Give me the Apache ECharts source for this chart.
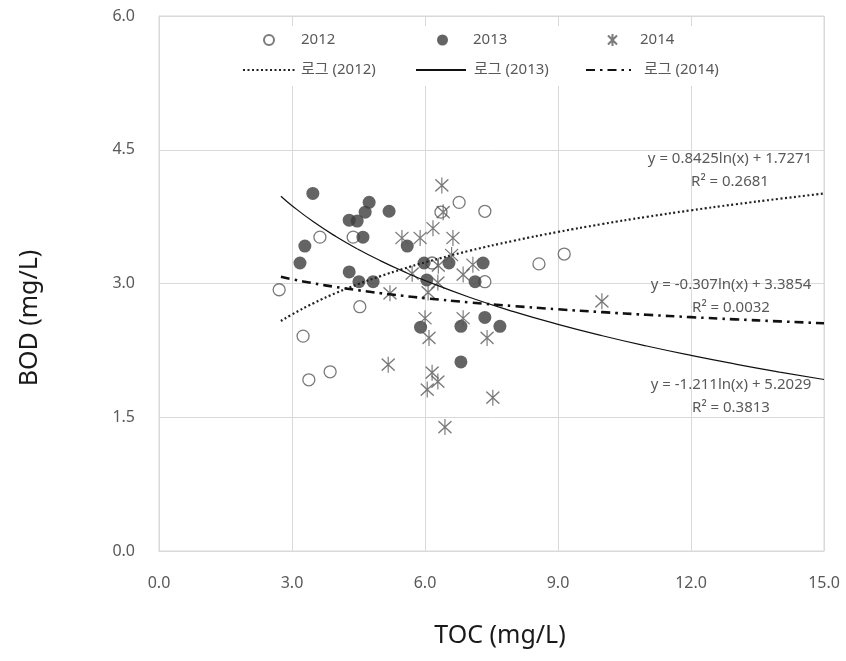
<!DOCTYPE html>
<html>
<head>
<meta charset="utf-8">
<script src="https://cdn.jsdelivr.net/npm/echarts@6/dist/echarts.min.js"></script>
<style>html,body{margin:0;padding:0;background:#fff}#c{width:846px;height:661px}</style>
</head>
<body>
<div id="c"></div>
<script>
// ---- data ----
const years = ['2012', '2013', '2014'];
const data2012 = [[2.71,2.93],[3.25,2.41],[3.38,1.92],[3.86,2.01],[3.63,3.52],[4.38,3.52],[4.53,2.74],[6.16,3.23],[6.36,3.80],[6.77,3.91],[7.35,3.81],[7.35,3.02],[8.57,3.22],[9.14,3.33]];
const data2013 = [[3.47,4.01],[4.74,3.91],[4.65,3.80],[4.29,3.71],[4.47,3.70],[5.19,3.81],[4.60,3.52],[3.29,3.42],[3.18,3.23],[5.60,3.42],[4.29,3.13],[4.51,3.02],[4.83,3.02],[5.98,3.23],[6.54,3.23],[7.31,3.23],[6.04,3.04],[7.13,3.02],[5.90,2.51],[6.81,2.52],[7.35,2.62],[7.69,2.52],[6.81,2.12]];
const data2014 = [[6.38,4.10],[6.41,3.80],[6.18,3.62],[6.63,3.51],[5.89,3.51],[5.48,3.51],[7.08,3.21],[6.86,3.10],[6.29,3.01],[6.07,2.90],[6.00,2.61],[6.09,2.39],[6.86,2.61],[7.40,2.39],[6.16,2.00],[6.29,1.90],[6.05,1.81],[7.53,1.72],[6.45,1.39],[5.71,3.11],[5.21,2.89],[5.17,2.09],[9.99,2.80],[6.30,3.20],[6.60,3.32]];
// logarithmic trendlines as printed on the chart: y = a*ln(x) + b
const trendA = [0.8425, -1.211, -0.307];
const trendB = [1.7271, 5.2029, 3.3854];
const trendR2 = ['0.2681', '0.3813', '0.0032'];
const trendX = [2.75, 3, 3.5, 4, 4.5, 5, 5.5, 6, 7, 8, 9, 10, 11, 12, 13, 14, 15];
const xTicks = [0, 3, 6, 9, 12, 15];
const yTicks = [0, 1.5, 3, 4.5, 6];

function trend(i) { return trendX.map(x => [x, trendA[i] * Math.log(x) + trendB[i]]); }
function eqText(i) {
  const a = trendA[i], b = trendB[i];
  return 'y = ' + a + 'ln(x) + ' + b + '\nR² = ' + trendR2[i];
}

const FONT = "'Noto Sans', 'Noto Sans CJK KR', sans-serif";
const GRAY = '#595959';
const star = 'path://M6,0L6,16M0,2L12,14M0,14L12,2';

const chart = echarts.init(document.getElementById('c'));
const legendBase = { padding: 0, z: 20, itemHeight: 12, textStyle: { color: GRAY, fontSize: 15, fontFamily: FONT, lineHeight: 20 } };
function lg(name, left, top, w, pad, isLine) {
  const o = Object.assign({}, legendBase, { data: [name], left: left, top: top, itemWidth: w,
    textStyle: Object.assign({}, legendBase.textStyle, { padding: [0, 0, 0, pad] }) });
  if (isLine) o.itemStyle = { opacity: 0, color: 'rgba(0,0,0,0)', borderWidth: 0 };
  return o;
}

chart.setOption({
  animation: false,
  backgroundColor: '#fff',
  textStyle: { fontFamily: FONT },
  grid: { left: 159, right: 22, top: 16, bottom: 110, show: true, borderColor: '#d9d9d9', borderWidth: 1 },
  legend: [
    lg(years[0], 263, 30, 10, 22),
    lg(years[1], 437, 30, 11, 20),
    lg(years[2], 607, 30, 13, 16),
    lg('로그 (' + years[0] + ')', 242, 60, 53, 0, true),
    lg('로그 (' + years[1] + ')', 415, 60, 50, 3, true),
    lg('로그 (' + years[2] + ')', 585, 60, 45, 8, true)
  ],
  xAxis: {
    type: 'value', min: xTicks[0], max: xTicks[xTicks.length - 1], interval: 3,
    axisLine: { show: true, lineStyle: { color: '#d9d9d9' } }, axisTick: { show: false },
    splitLine: { show: true, lineStyle: { color: '#d9d9d9' } },
    axisLabel: { color: GRAY, fontSize: 16, margin: 24, formatter: v => v.toFixed(1) }
  },
  yAxis: {
    type: 'value', min: yTicks[0], max: yTicks[yTicks.length - 1], interval: 1.5,
    axisLine: { show: true, lineStyle: { color: '#d9d9d9' } }, axisTick: { show: false },
    splitLine: { show: true, lineStyle: { color: '#d9d9d9' } },
    axisLabel: { color: GRAY, fontSize: 16, margin: 24, formatter: v => v.toFixed(1) }
  },
  graphic: [
    { type: 'rect', z: 10, silent: true, shape: { x: 232, y: 26, width: 513, height: 60 }, style: { fill: '#fff' } },
    { type: 'text', z: 30, x: 30, y: 318, rotation: Math.PI / 2,
      style: { text: 'BOD (mg/L)', fill: '#1a1a1a', font: "25px 'Noto Sans', sans-serif", align: 'center', verticalAlign: 'middle' } },
    { type: 'text', z: 30, x: 500, y: 636,
      style: { text: 'TOC (mg/L)', fill: '#1a1a1a', font: "25px 'Noto Sans', sans-serif", align: 'center', verticalAlign: 'middle' } },
    { type: 'text', z: 30, x: 730, y: 170,
      style: { text: eqText(0), fill: GRAY, font: "15px 'Noto Sans', sans-serif", align: 'center', verticalAlign: 'middle', lineHeight: 23 } },
    { type: 'text', z: 30, x: 731, y: 296,
      style: { text: eqText(2), fill: GRAY, font: "15px 'Noto Sans', sans-serif", align: 'center', verticalAlign: 'middle', lineHeight: 23 } },
    { type: 'text', z: 30, x: 731, y: 396,
      style: { text: eqText(1), fill: GRAY, font: "15px 'Noto Sans', sans-serif", align: 'center', verticalAlign: 'middle', lineHeight: 23 } }
  ],
  series: [
    { name: years[0], type: 'scatter', data: data2012, symbol: 'circle', symbolSize: 12, z: 2,
      itemStyle: { color: '#fff', borderColor: GRAY, borderWidth: 1.3 } },
    { name: years[1], type: 'scatter', data: data2013, symbol: 'circle', symbolSize: 13, z: 2,
      itemStyle: { color: '#3d3d3d', borderColor: '#3d3d3d', borderWidth: 0 } },
    { name: years[2], type: 'scatter', data: data2014, symbol: star, symbolSize: [13, 16], z: 2,
      itemStyle: { color: 'rgba(0,0,0,0)', borderColor: GRAY, borderWidth: 1.3 } },
    { name: '로그 (' + years[0] + ')', type: 'line', data: trend(0), smooth: true, symbol: 'none', showSymbol: false, z: 3,
      itemStyle: { color: '#222' }, lineStyle: { color: '#222', width: 2.2, type: [2, 2.5] } },
    { name: '로그 (' + years[1] + ')', type: 'line', data: trend(1), smooth: true, symbol: 'none', showSymbol: false, z: 3,
      itemStyle: { color: '#111' }, lineStyle: { color: '#111', width: 1.2, type: 'solid' } },
    { name: '로그 (' + years[2] + ')', type: 'line', data: trend(2), smooth: true, symbol: 'none', showSymbol: false, z: 3,
      itemStyle: { color: '#111' }, lineStyle: { color: '#111', width: 2.6, type: [9, 5, 2.5, 5] } }
  ]
});
</script>
</body>
</html>
